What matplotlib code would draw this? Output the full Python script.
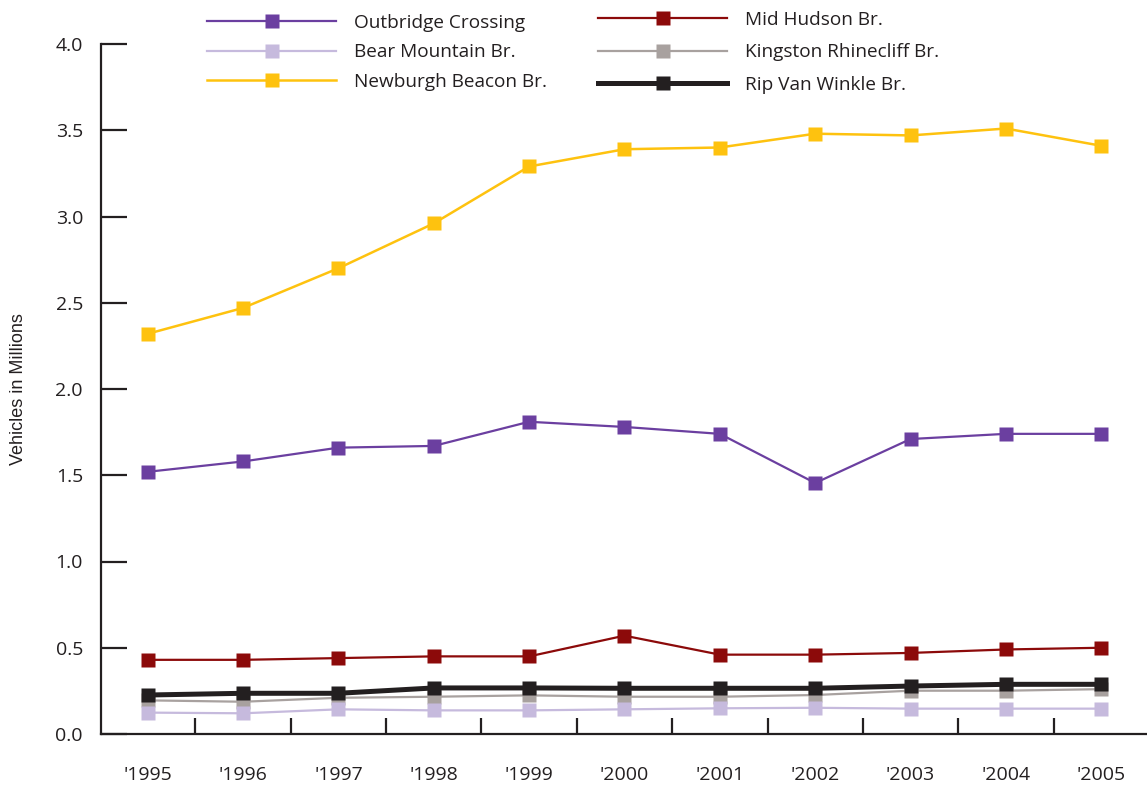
import matplotlib
matplotlib.use("Agg")
import matplotlib.pyplot as plt
from matplotlib.ticker import FixedLocator

plt.rcParams['font.family'] = ['Open Sans', 'DejaVu Sans']

years = [1995, 1996, 1997, 1998, 1999, 2000, 2001, 2002, 2003, 2004, 2005]
year_labels = ["'1995", "'1996", "'1997", "'1998", "'1999", "'2000",
               "'2001", "'2002", "'2003", "'2004", "'2005"]

outbridge = [1.52, 1.58, 1.66, 1.67, 1.81, 1.78, 1.74, 1.455, 1.71, 1.74, 1.74]
mid_hudson = [0.43, 0.43, 0.44, 0.45, 0.45, 0.57, 0.46, 0.46, 0.47, 0.49, 0.50]
bear_mountain = [0.124, 0.12, 0.143, 0.137, 0.137, 0.143, 0.149, 0.152, 0.147, 0.147, 0.147]
kingston = [0.195, 0.187, 0.21, 0.216, 0.224, 0.216, 0.216, 0.226, 0.251, 0.251, 0.26]
newburgh = [2.32, 2.47, 2.70, 2.96, 3.29, 3.39, 3.40, 3.48, 3.47, 3.51, 3.41]
rip_van_winkle = [0.226, 0.236, 0.236, 0.267, 0.267, 0.265, 0.265, 0.265, 0.278, 0.288, 0.288]

y_ticks = [0.0, 0.5, 1.0, 1.5, 2.0, 2.5, 3.0, 3.5, 4.0]

INK = '#231f20'

fig = plt.figure(figsize=(11.47, 7.90), dpi=100)
ax = fig.add_axes([101 / 1147, 56 / 790, 1046 / 1147, 690 / 790])

ms = 10
l_king, = ax.plot(years, kingston, color='#a8a19f', lw=1.6, marker='s', ms=ms,
                  mec='none', label='Kingston Rhinecliff Br.', zorder=2)
l_bear, = ax.plot(years, bear_mountain, color='#c6badd', lw=1.6, marker='s', ms=ms,
                  mec='none', label='Bear Mountain Br.', zorder=3)
l_rvw, = ax.plot(years, rip_van_winkle, color=INK, lw=3.6, marker='s', ms=ms,
                 mec='none', label='Rip Van Winkle Br.', zorder=4)
l_mid, = ax.plot(years, mid_hudson, color='#8c0a0a', lw=1.6, marker='s', ms=ms,
                 mec='none', label='Mid Hudson Br.', zorder=5)
l_out, = ax.plot(years, outbridge, color='#6b3fa0', lw=1.6, marker='s', ms=ms,
                 mec='none', label='Outbridge Crossing', zorder=6)
l_new, = ax.plot(years, newburgh, color='#fec20f', lw=1.8, marker='s', ms=ms,
                 mec='none', label='Newburgh Beacon Br.', zorder=7)

ax.set_xlim(1994.51, 2005.48)
ax.set_ylim(0, 4.0)

for side in ('top', 'right'):
    ax.spines[side].set_visible(False)
for side in ('left', 'bottom'):
    ax.spines[side].set_color(INK)
    ax.spines[side].set_linewidth(1.6)

ax.set_yticks(y_ticks)
ax.set_yticklabels([f'{v:.1f}' for v in y_ticks])
ax.tick_params(axis='y', direction='in', length=18.5, width=1.6, color=INK,
               labelsize=14, labelcolor=INK, pad=13)

ax.set_xticks(years)
ax.set_xticklabels(year_labels)
ax.tick_params(axis='x', which='major', length=0, labelsize=14,
               labelcolor=INK, pad=23)
ax.xaxis.set_minor_locator(FixedLocator([y + 0.5 for y in years[:-1]]))
ax.tick_params(axis='x', which='minor', direction='in', length=11.5,
               width=1.6, color=INK)

ax.set_ylabel('Vehicles in Millions', fontsize=13, color=INK,
              family=['Liberation Sans', 'DejaVu Sans'])
ax.yaxis.set_label_coords(-0.0707, 0.5)

leg_kw = dict(frameon=False, fontsize=13.7, handlelength=6.8, handletextpad=0.95,
              borderpad=0, borderaxespad=0, loc='upper left', labelcolor=INK)
leg1 = fig.legend([l_out, l_bear, l_new],
                  ['Outbridge Crossing', 'Bear Mountain Br.', 'Newburgh Beacon Br.'],
                  bbox_to_anchor=(207 / 1147, 1 - 14 / 790), labelspacing=0.6, **leg_kw)
leg2 = fig.legend([l_mid, l_king, l_rvw],
                  ['Mid Hudson Br.', 'Kingston Rhinecliff Br.', 'Rip Van Winkle Br.'],
                  bbox_to_anchor=(598 / 1147, 1 - 11 / 790), labelspacing=0.76, **leg_kw)

fig.savefig('out.png', dpi=100)
